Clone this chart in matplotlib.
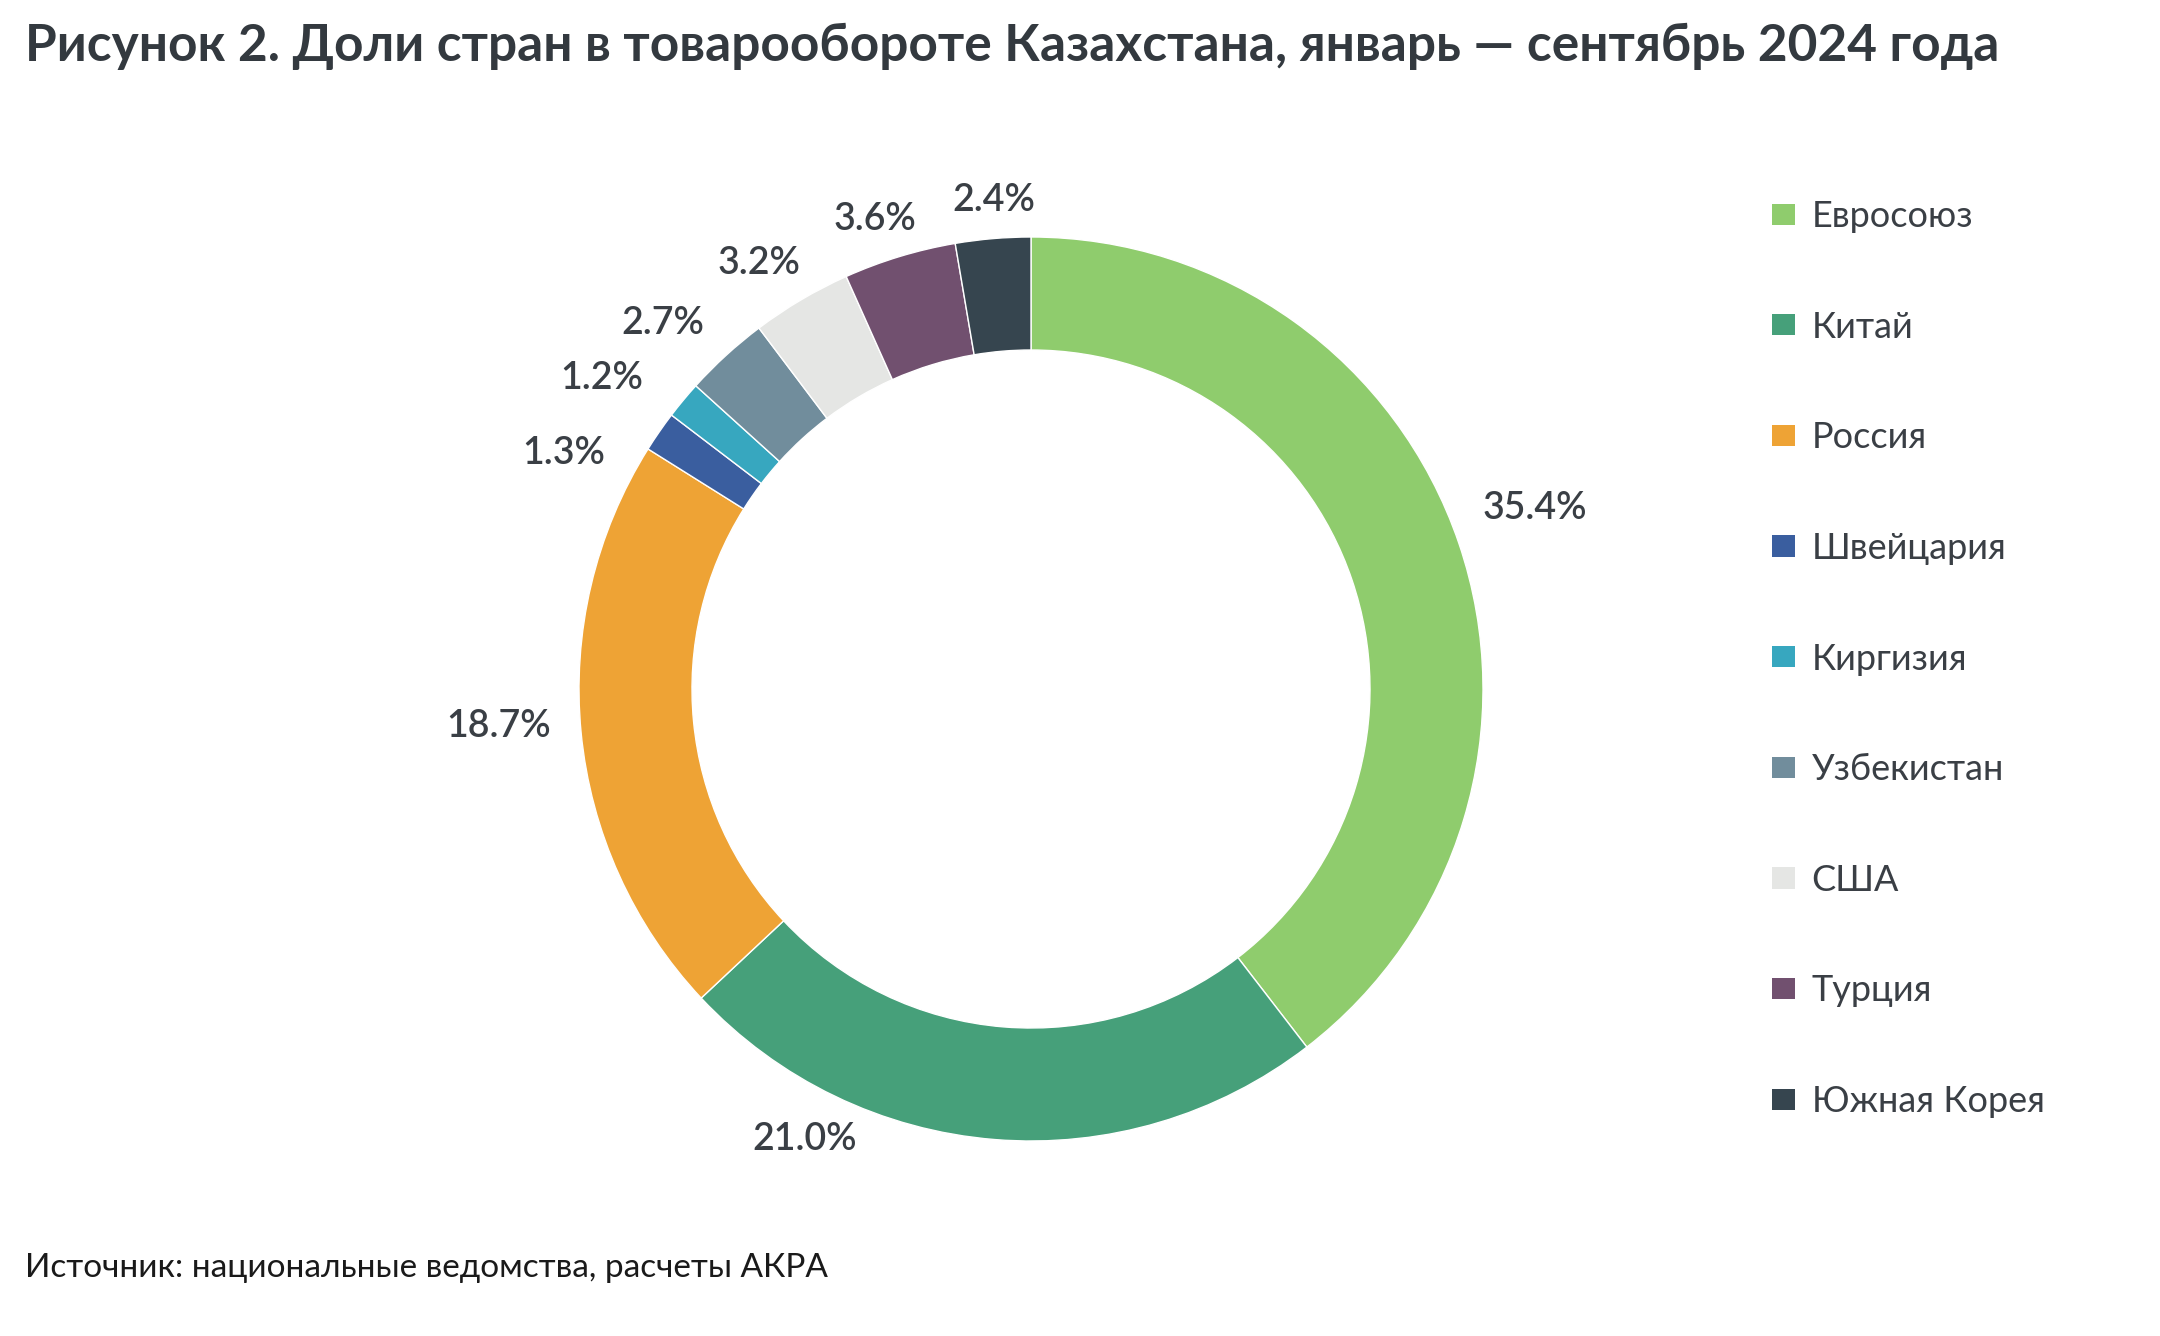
import numpy as np
import matplotlib
matplotlib.use("Agg")
import matplotlib.pyplot as plt
from matplotlib.patches import Patch

# ---- data ----
countries = ["Евросоюз", "Китай", "Россия", "Швейцария", "Киргизия",
             "Узбекистан", "США", "Турция", "Южная Корея"]
shares = [35.4, 21.0, 18.7, 1.3, 1.2, 2.7, 3.2, 3.6, 2.4]
share_labels = ["35.4%", "21.0%", "18.7%", "1.3%", "1.2%", "2.7%", "3.2%", "3.6%", "2.4%"]

title = "Рисунок 2. Доли стран в товарообороте Казахстана, январь — сентябрь 2024 года"
source = "Источник: национальные ведомства, расчеты АКРА"

# ---- style ----
colors = ["#8fcc6d", "#46a07a", "#eea335", "#3a5e9f", "#37a7bf",
          "#718d9c", "#e5e6e4", "#71506f", "#36454f"]
label_angle_shift = [-0.9, 22.0, 1.5, -7.9, -3.8, -2.8, -2.0, -1.5, 0.5]
label_radius = [1.184, 1.116, 1.18, 1.158, 1.172, 1.148, 1.118, 1.094, 1.083]
text_color = "#3a3f45"

plt.rcParams['font.family'] = ['Lato', 'DejaVu Sans']

W, H = 2160, 1336
fig = plt.figure(figsize=(W / 100, H / 100), dpi=100)

# pie axes: centre (1031, 689) px, outer radius 452 px
cx, cy, R = 1031, 689, 452
L = 1.3
S = R * 2 * L
ax = fig.add_axes([(cx - S / 2) / W, (H - cy - S / 2) / H, S / W, S / H])
wedges, _ = ax.pie(shares, colors=colors, startangle=90, counterclock=False,
                   radius=1.0, wedgeprops=dict(width=0.25, edgecolor="white", linewidth=1.0))
ax.set_xlim(-L, L)
ax.set_ylim(-L, L)
ax.set_aspect('equal')
ax.axis('off')

total = float(np.sum(shares))
cum = np.cumsum([0] + shares[:-1])
for i, (v, c0) in enumerate(zip(shares, cum)):
    mid = (c0 + v / 2) / total * 360.0 + label_angle_shift[i]  # clockwise from top
    t = np.deg2rad(90 - mid)
    r = label_radius[i]
    ax.text(r * np.cos(t), r * np.sin(t), share_labels[i], ha="center", va="center",
            fontsize=27, color=text_color, fontweight="semibold")

# title
fig.text(25 / W, 1 - 46 / H, title, ha="left", va="center", fontsize=37,
         fontweight="bold", color="#33393f")

# source
fig.text(25 / W, 1 - 1268 / H, source, ha="left", va="center", fontsize=24,
         color="#1a1a1a")

# legend
handles = [Patch(facecolor=c, edgecolor="none") for c in colors]
leg = fig.legend(handles, countries, loc="upper left",
                 bbox_to_anchor=(1772 / W, 1 - 200 / H), frameon=False,
                 fontsize=26, labelspacing=2.15, handlelength=0.65, handleheight=0.53,
                 handletextpad=0.45, borderpad=0, borderaxespad=0)
for t in leg.get_texts():
    t.set_color(text_color)

fig.savefig("out.png", dpi=100, facecolor="white")
